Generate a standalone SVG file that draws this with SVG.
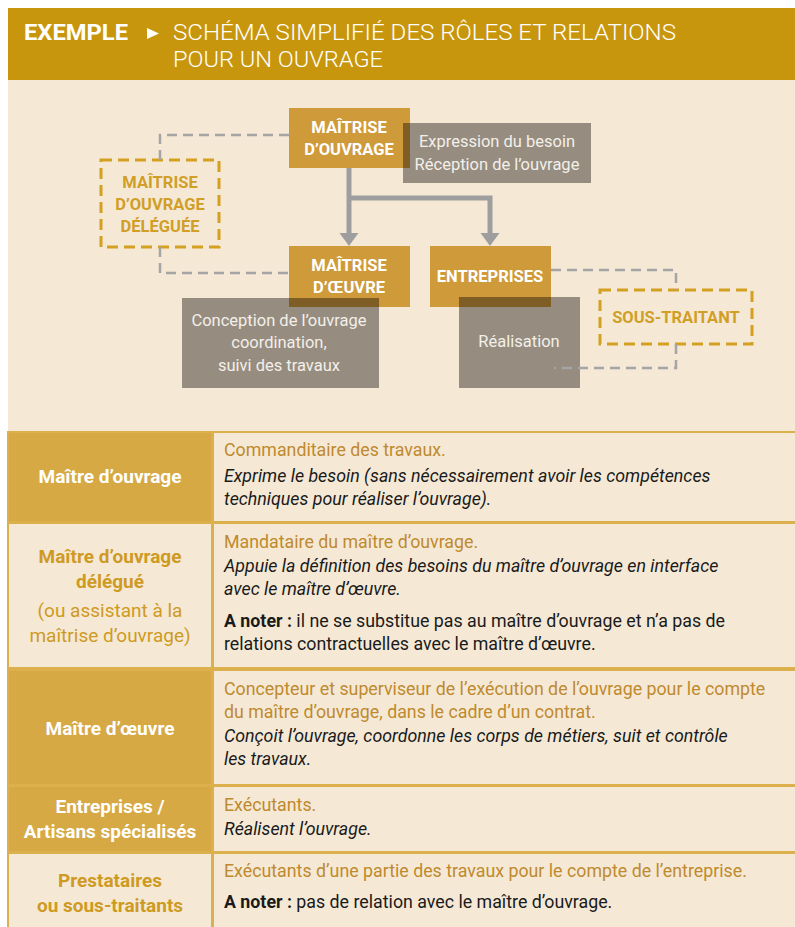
<svg xmlns="http://www.w3.org/2000/svg" width="795" height="927" viewBox="0 0 795 927">
<defs>
<style>
text{font-family:Roboto,"Liberation Sans",sans-serif;}
.hd{fill:#fff;font-size:22px;}
.nb{fill:#fff;font-weight:700;font-size:16.5px;text-anchor:middle;}
.gb{fill:#D19E26;font-weight:700;font-size:16.5px;text-anchor:middle;}
.gt{fill:#F3EFE9;font-size:16.5px;text-anchor:middle;}
.node{fill:#CF9A3A;}
.gray{fill:#968D80;}
.ovl{fill:#7E5E24;}
.dbox{fill:none;stroke:#D4A020;stroke-width:3;stroke-dasharray:11 6;}
.dash{fill:none;stroke:#A5A5A5;stroke-width:2.5;stroke-dasharray:10 6;}
.arr{fill:none;stroke:#9E9E9E;stroke-width:5;}
.lc{fill:#D6A945;stroke:#DDB04E;stroke-width:2;}
.lc2{fill:#F5E9D6;stroke:#DDB04E;stroke-width:2;}
.rc{fill:#F5E9D6;stroke:#DDB04E;stroke-width:2;}
.lw{fill:#fff;font-weight:700;font-size:19px;text-anchor:middle;}
.lg{fill:#CF9A22;font-weight:700;font-size:19px;text-anchor:middle;}
.lgr{fill:#CF9A22;font-size:19px;text-anchor:middle;}
.rg{fill:#BF8A2E;font-size:17.8px;}
.ri{fill:#1A1A1A;font-size:17.8px;font-style:italic;}
.rn{fill:#1A1A1A;font-size:17.8px;}
.b{font-weight:700;}
</style>
<marker id="ah" markerUnits="userSpaceOnUse" markerWidth="14" markerHeight="20" viewBox="0 -10 14 20" refX="0" refY="0" orient="auto" overflow="visible">
<path d="M0,-9.5 L13,0 L0,9.5 z" fill="#9E9E9E"/>
</marker>
</defs>

<rect x="8" y="80" width="787" height="847" fill="#F5E9D6"/>

<g id="header">
<rect x="8" y="8" width="787" height="72" fill="#C8960C"/>
<text x="24" y="40" class="hd" font-weight="700" textLength="104" lengthAdjust="spacingAndGlyphs">EXEMPLE</text>
<path d="M147,28 L159,33.5 L147,39 z" fill="#fff"/>
<text x="173" y="40" class="hd" font-weight="300" textLength="503" lengthAdjust="spacingAndGlyphs">SCHÉMA SIMPLIFIÉ DES RÔLES ET RELATIONS</text>
<text x="173" y="67" class="hd" font-weight="300" textLength="210" lengthAdjust="spacingAndGlyphs">POUR UN OUVRAGE</text>
</g>

<g id="node-mo">
<rect x="289" y="108" width="121" height="60" class="node"/>
<text x="349" y="133" class="nb">MAÎTRISE</text>
<text x="349" y="155" class="nb">D’OUVRAGE</text>
</g>
<g id="note-mo">
<rect x="403" y="123" width="188" height="60" class="gray"/>
<rect x="403" y="123" width="7" height="45" class="ovl"/>
<text x="497" y="147" class="gt">Expression du besoin</text>
<text x="497" y="170" class="gt">Réception de l’ouvrage</text>
</g>

<g id="node-mod">
<rect x="101" y="160" width="118" height="87" class="dbox"/>
<text x="160" y="188" class="gb">MAÎTRISE</text>
<text x="160" y="210" class="gb">D’OUVRAGE</text>
<text x="160" y="232" class="gb">DÉLÉGUÉE</text>
</g>

<g id="node-moe">
<rect x="289" y="246" width="121" height="61" class="node"/>
<text x="349" y="271" class="nb">MAÎTRISE</text>
<text x="349" y="293" class="nb">D’ŒUVRE</text>
</g>
<g id="note-moe">
<rect x="182" y="298" width="197" height="90" class="gray"/>
<rect x="289" y="298" width="90" height="9" class="ovl"/>
<text x="279" y="326" class="gt">Conception de l’ouvrage</text>
<text x="279" y="348" class="gt">coordination,</text>
<text x="279" y="371" class="gt">suivi des travaux</text>
</g>

<g id="node-ent">
<rect x="430" y="246" width="121" height="61" class="node"/>
<text x="490" y="282" class="nb">ENTREPRISES</text>
</g>
<g id="note-ent">
<rect x="459" y="297" width="121" height="91" class="gray"/>
<rect x="459" y="297" width="92" height="10" class="ovl"/>
<text x="519" y="347" class="gt">Réalisation</text>
</g>

<g id="node-st">
<rect x="600" y="290" width="152" height="54" class="dbox"/>
<text x="676" y="323" class="gb">SOUS-TRAITANT</text>
</g>

<g id="connectors">
<path class="dash" d="M289,135 H160 V160"/>
<path class="dash" d="M160,247 V273 H289"/>
<path class="dash" d="M551,270 H676 V290"/>
<path class="dash" d="M676,344 V368 H554"/>
<path class="arr" d="M349,168 V233" marker-end="url(#ah)"/>
<path class="arr" d="M349,198 H490 V233" marker-end="url(#ah)"/>
</g>

<g id="table">
<rect x="8" y="432" width="204" height="90" class="lc"/>
<rect x="213" y="432" width="590" height="90" class="rc"/>
<rect x="8" y="523" width="204" height="145" class="lc2"/>
<rect x="213" y="523" width="590" height="145" class="rc"/>
<rect x="8" y="670" width="204" height="115" class="lc"/>
<rect x="213" y="670" width="590" height="115" class="rc"/>
<rect x="8" y="786" width="204" height="66" class="lc"/>
<rect x="213" y="786" width="590" height="66" class="rc"/>
<rect x="8" y="853" width="204" height="80" class="lc2"/>
<rect x="213" y="853" width="590" height="80" class="rc"/>

<text x="110" y="483" class="lw">Maître d’ouvrage</text>
<text x="224" y="456" class="rg">Commanditaire des travaux.</text>
<text x="224" y="482" class="ri">Exprime le besoin (sans nécessairement avoir les compétences</text>
<text x="224" y="505" class="ri">techniques pour réaliser l’ouvrage).</text>

<text x="110" y="563" class="lg">Maître d’ouvrage</text>
<text x="110" y="588" class="lg">délégué</text>
<text x="110" y="617" class="lgr">(ou assistant à la</text>
<text x="110" y="642" class="lgr">maîtrise d’ouvrage)</text>
<text x="224" y="548" class="rg">Mandataire du maître d’ouvrage.</text>
<text x="224" y="572" class="ri">Appuie la définition des besoins du maître d’ouvrage en interface</text>
<text x="224" y="595" class="ri">avec le maître d’œuvre.</text>
<text x="224" y="627" class="rn"><tspan class="b">A noter :</tspan> il ne se substitue pas au maître d’ouvrage et n’a pas de</text>
<text x="224" y="650" class="rn">relations contractuelles avec le maître d’œuvre.</text>

<text x="110" y="735" class="lw">Maître d’œuvre</text>
<text x="224" y="695" class="rg">Concepteur et superviseur de l’exécution de l’ouvrage pour le compte</text>
<text x="224" y="718" class="rg">du maître d’ouvrage, dans le cadre d’un contrat.</text>
<text x="224" y="742" class="ri">Conçoit l’ouvrage, coordonne les corps de métiers, suit et contrôle</text>
<text x="224" y="765" class="ri">les travaux.</text>

<text x="110" y="813" class="lw">Entreprises /</text>
<text x="110" y="838" class="lw">Artisans spécialisés</text>
<text x="224" y="811" class="rg">Exécutants.</text>
<text x="224" y="835" class="ri">Réalisent l’ouvrage.</text>

<text x="110" y="887" class="lg">Prestataires</text>
<text x="110" y="912" class="lg">ou sous-traitants</text>
<text x="224" y="877" class="rg">Exécutants d’une partie des travaux pour le compte de l’entreprise.</text>
<text x="224" y="908" class="rn"><tspan class="b">A noter :</tspan> pas de relation avec le maître d’ouvrage.</text>
</g>
</svg>
